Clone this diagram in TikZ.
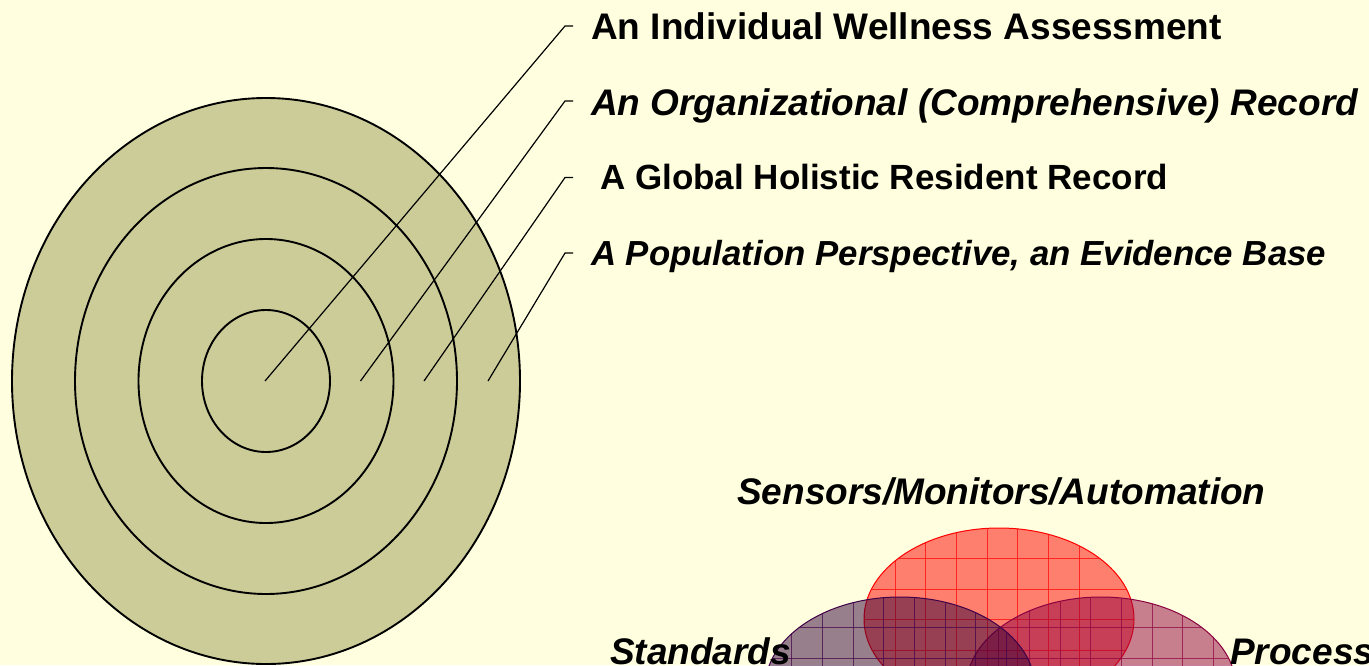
\documentclass[tikz,border=0pt]{standalone}
\usepackage{fontspec}
\setmainfont{Liberation Sans}
\definecolor{bgc}{RGB}{255,255,224}
\definecolor{ringfill}{RGB}{204,204,153}
\definecolor{redfg}{RGB}{255,0,0}
\definecolor{purfg}{RGB}{48,0,56}
\definecolor{pinkfg}{RGB}{145,0,62}
\definecolor{purline}{RGB}{64,0,72}
\definecolor{pinkline}{RGB}{140,0,64}
\tikzset{
  ring/.style={draw=black, line width=1.9pt},
  callout/.style={draw=black, line width=1.2pt},
  lab/.style={anchor=base west, inner sep=0pt, font=\fontsize{37}{40}\selectfont\bfseries},
  labi/.style={lab, font=\fontsize{37}{40}\selectfont\bfseries\itshape},
  labs/.style={lab, font=\fontsize{35}{38}\selectfont\bfseries},
  labsi/.style={lab, font=\fontsize{34.8}{38}\selectfont\bfseries\itshape},
  venn/.style={fill opacity=0.5, draw opacity=1, line width=1pt},
  gridln/.style={line width=0.8pt, opacity=0.7}
}
\begin{document}
\begin{tikzpicture}[x=1pt,y=-1pt]
\fill[bgc] (0,0) rectangle (1369,665);
\useasboundingbox (0,0) rectangle (1369,665);
% target rings
\begin{scope}
\clip (0,0) rectangle (1369,665);
\path[ring, fill=ringfill] (266,381) ellipse [x radius=254pt, y radius=283pt];
\path[ring] (266,381) ellipse [x radius=191pt, y radius=213pt];
\path[ring] (266,381) ellipse [x radius=127.5pt, y radius=142pt];
\path[ring] (266,381) ellipse [x radius=64pt, y radius=71pt];
\end{scope}
% labels
\node[lab]   (t1) at (591,39)  {An Individual Wellness Assessment};
\node[labi]  (t2) at (591,115) {An Organizational (Comprehensive) Record};
\node[labs]  (t3) at (600,189.5) {A Global Holistic Resident Record};
\node[labsi] (t4) at (591,265) {A Population Perspective, an Evidence Base};
% callout points
\coordinate (p1) at (265,381);
\coordinate (p2) at (360.5,381);
\coordinate (p3) at (424,381);
\coordinate (p4) at (488,381);
\coordinate (k1) at (565,26);
\coordinate (k2) at (565,101);
\coordinate (k3) at (565,177.5);
\coordinate (k4) at (565,253);
\draw[callout] (p1) -- (k1) -- ++(8,0);
\draw[callout] (p2) -- (k2) -- ++(8,0);
\draw[callout] (p3) -- (k3) -- ++(8,0);
\draw[callout] (p4) -- (k4) -- ++(8,0);
% Venn
\begin{scope}
\clip (0,0) rectangle (1369,665);
% red (top)
\path[venn, fill=redfg, draw=redfg] (999,619) ellipse [x radius=135pt, y radius=91pt];
\begin{scope}
\clip (999,619) ellipse [x radius=135pt, y radius=91pt];
\foreach \k in {-5,...,5} \draw[gridln, redfg] ({925.7+\k*30.67},500) -- ++(0,250);
\foreach \k in {-2,...,5} \draw[gridln, redfg] (850,{558.3+\k*30.67}) -- ++(300,0);
\end{scope}
% pink (right)
\path[venn, fill=pinkfg, draw=pinkline] (1101,688) ellipse [x radius=135pt, y radius=91pt];
\begin{scope}
\clip (1101,688) ellipse [x radius=135pt, y radius=91pt];
\foreach \k in {-9,...,1} \draw[gridln, pinkline] ({1213.3+\k*30.67},580) -- ++(0,200);
\foreach \k in {-2,...,3} \draw[gridln, pinkline] (950,{627.3+\k*30.67}) -- ++(300,0);
\end{scope}
% purple (left)
\path[venn, fill=purfg, draw=purline] (900,688) ellipse [x radius=135pt, y radius=91pt];
\begin{scope}
\clip (900,688) ellipse [x radius=135pt, y radius=91pt];
\foreach \k in {-1,...,9} \draw[gridln, purline] ({791.7+\k*30.67},580) -- ++(0,200);
\foreach \k in {-2,...,3} \draw[gridln, purline] (750,{627.3+\k*30.67}) -- ++(300,0);
\end{scope}
\end{scope}
\node[labi] (s1) at (737,504) {Sensors/Monitors/Automation};
\node[labi] (s2) at (610,664.5) {Standards};
\node[labi] (s3) at (1230,664.5) {Process};
\end{tikzpicture}
\end{document}
